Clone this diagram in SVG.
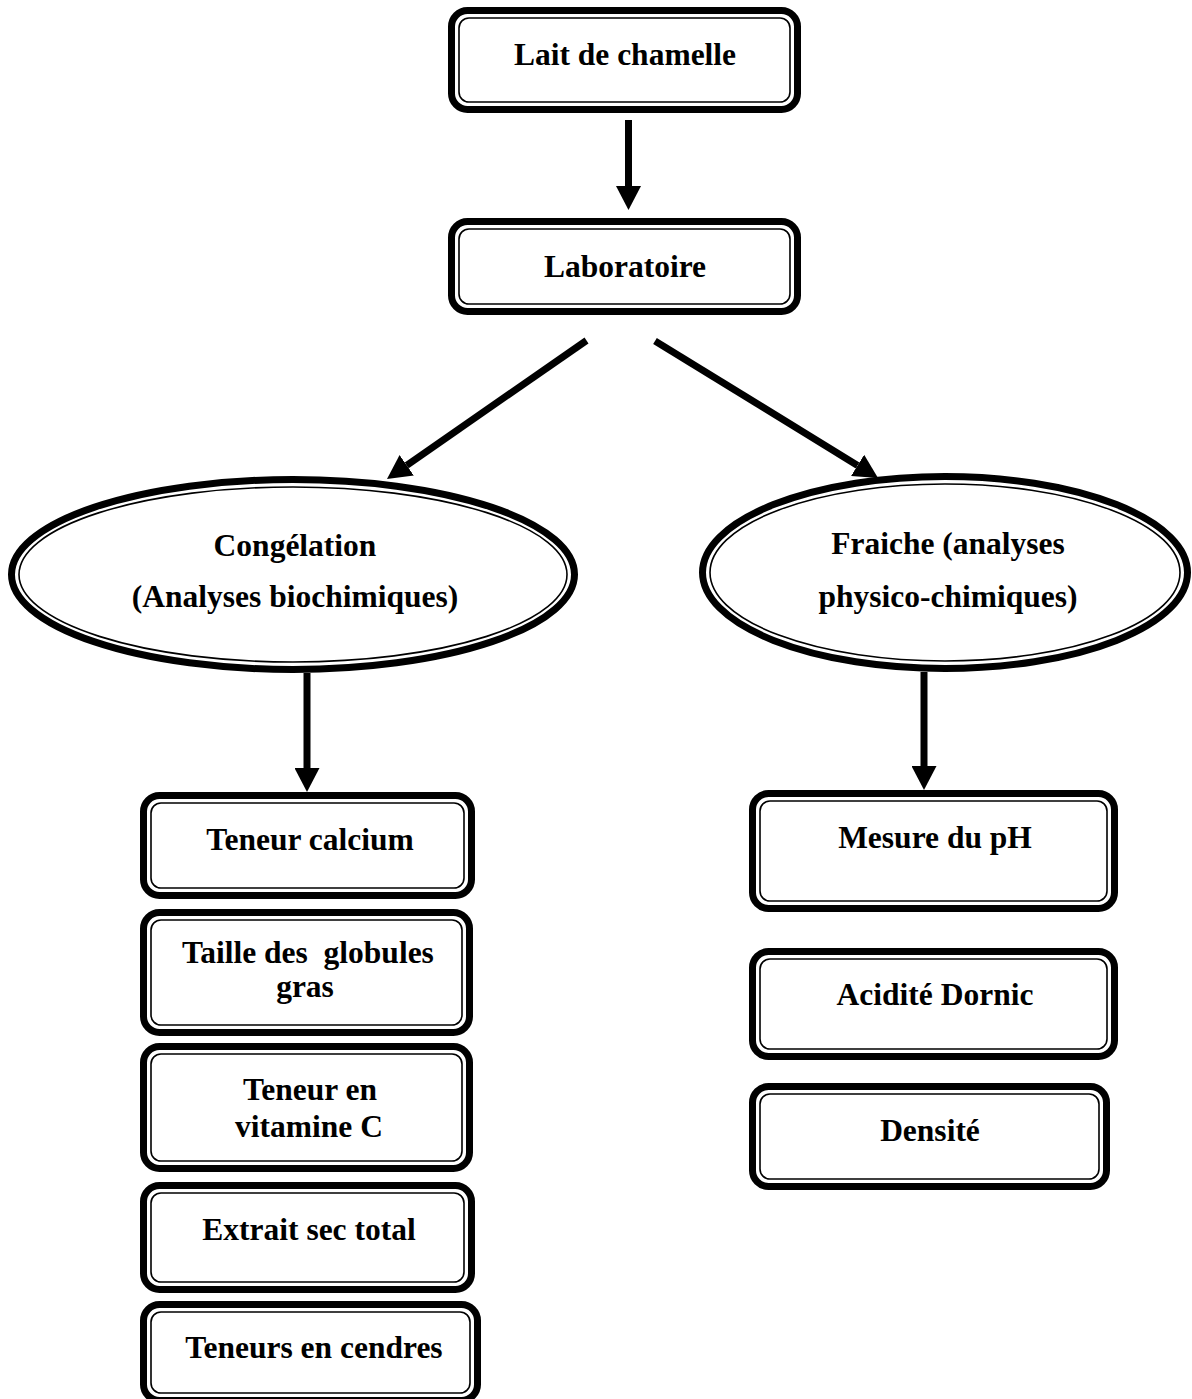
<svg xmlns="http://www.w3.org/2000/svg" width="1192" height="1399" viewBox="0 0 1192 1399">
<defs>
<style>
.o{fill:#fff;stroke:#000;stroke-width:7}
.i{fill:none;stroke:#000;stroke-width:1.6}
.t{font-family:"Liberation Serif","Times New Roman",serif;font-weight:bold;font-size:31.5px;text-anchor:middle;fill:#000;white-space:pre}
.c{stroke:#000;stroke-width:7;fill:none;marker-end:url(#ah)}
</style>
<marker id="ah" markerUnits="userSpaceOnUse" markerWidth="24" markerHeight="25" viewBox="0 0 24 25" refX="0" refY="12.5" orient="auto">
<path d="M0,0 L24,12.5 L0,25 z" fill="#000"/>
</marker>
</defs>
<rect width="1192" height="1399" fill="#fff"/>

<g id="connectors">
<line class="c" x1="628.5" y1="120" x2="628.5" y2="186"/>
<line class="c" x1="586.5" y1="340.5" x2="406.7" y2="465.3"/>
<line class="c" x1="655" y1="341" x2="857.6" y2="465.4"/>
<line class="c" x1="307" y1="673" x2="307" y2="768"/>
<line class="c" x1="924" y1="672" x2="924" y2="766"/>
</g>

<g id="lait">
<rect class="o" x="451.5" y="10.5" width="346" height="99" rx="16"/>
<rect class="i" x="459" y="18" width="331" height="84" rx="10"/>
<text class="t" x="625" y="65">Lait de chamelle</text>
</g>

<g id="laboratoire">
<rect class="o" x="451.5" y="221.5" width="346" height="90" rx="16"/>
<rect class="i" x="459" y="229" width="331" height="75" rx="10"/>
<text class="t" x="625" y="277">Laboratoire</text>
</g>

<g id="congelation">
<ellipse class="o" cx="293" cy="574.5" rx="281.5" ry="95"/>
<ellipse class="i" cx="293" cy="574.5" rx="274" ry="87.5"/>
<text class="t" x="295" y="556">Congélation</text>
<text class="t" x="295" y="607">(Analyses biochimiques)</text>
</g>

<g id="fraiche">
<ellipse class="o" cx="945" cy="572.5" rx="242.5" ry="96"/>
<ellipse class="i" cx="945" cy="572.5" rx="235" ry="88.5"/>
<text class="t" x="948" y="554">Fraiche (analyses</text>
<text class="t" x="948" y="607">physico-chimiques)</text>
</g>

<g id="calcium">
<rect class="o" x="143.5" y="795.5" width="328" height="100" rx="16"/>
<rect class="i" x="151" y="803" width="313" height="85" rx="10"/>
<text class="t" x="310" y="850">Teneur calcium</text>
</g>

<g id="globules">
<rect class="o" x="143.5" y="912.5" width="326" height="120" rx="16"/>
<rect class="i" x="151" y="920" width="311" height="105" rx="10"/>
<text class="t" x="308" y="963">Taille des  globules</text>
<text class="t" x="305" y="997">gras</text>
</g>

<g id="vitamine">
<rect class="o" x="143.5" y="1046.5" width="326" height="122" rx="16"/>
<rect class="i" x="151" y="1054" width="311" height="107" rx="10"/>
<text class="t" x="310" y="1100">Teneur en</text>
<text class="t" x="309" y="1137">vitamine C</text>
</g>

<g id="extrait">
<rect class="o" x="143.5" y="1185.5" width="328" height="104" rx="16"/>
<rect class="i" x="151" y="1193" width="313" height="89" rx="10"/>
<text class="t" x="309" y="1240">Extrait sec total</text>
</g>

<g id="cendres">
<rect class="o" x="143.5" y="1304.5" width="334" height="96" rx="16"/>
<rect class="i" x="151" y="1312" width="319" height="81" rx="10"/>
<text class="t" x="314" y="1358">Teneurs en cendres</text>
</g>

<g id="ph">
<rect class="o" x="752.5" y="793.5" width="362" height="115" rx="16"/>
<rect class="i" x="760" y="801" width="347" height="100" rx="10"/>
<text class="t" x="935" y="848">Mesure du pH</text>
</g>

<g id="dornic">
<rect class="o" x="752.5" y="951.5" width="362" height="105" rx="16"/>
<rect class="i" x="760" y="959" width="347" height="90" rx="10"/>
<text class="t" x="935" y="1005">Acidité Dornic</text>
</g>

<g id="densite">
<rect class="o" x="752.5" y="1086.5" width="354" height="100" rx="16"/>
<rect class="i" x="760" y="1094" width="339" height="85" rx="10"/>
<text class="t" x="930" y="1141">Densité</text>
</g>
</svg>
